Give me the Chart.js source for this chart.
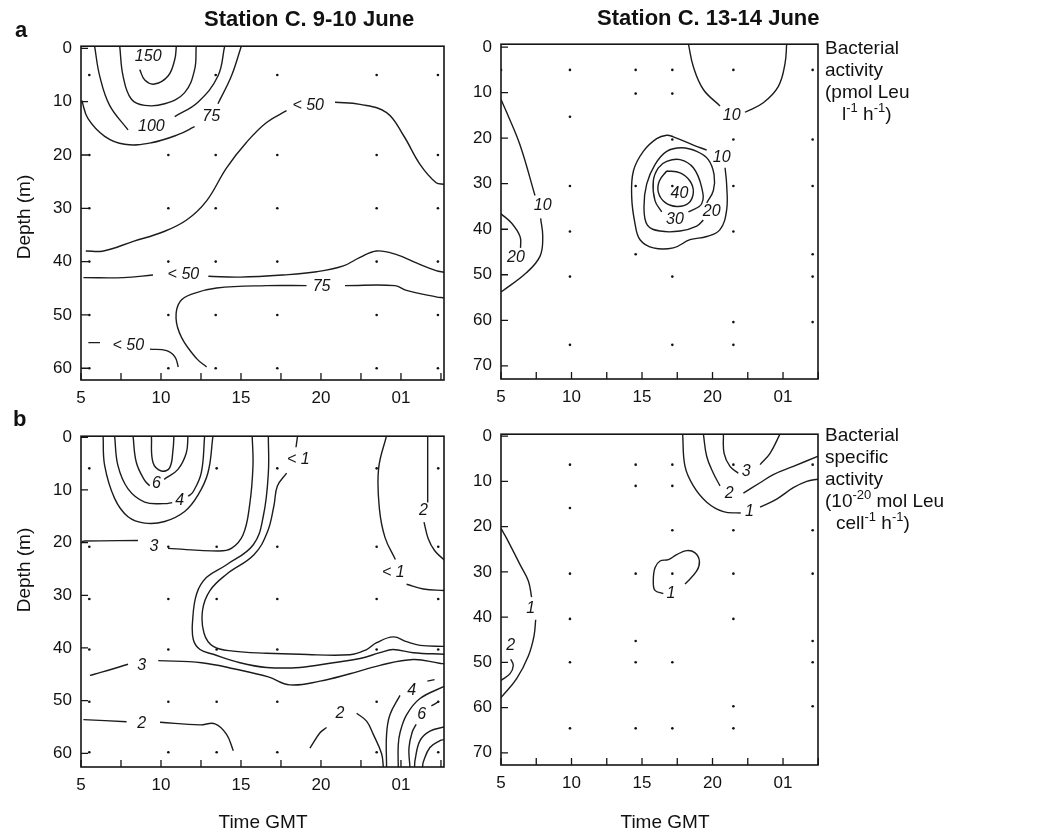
<!DOCTYPE html>
<html>
<head>
<meta charset="utf-8">
<script src="https://cdn.jsdelivr.net/npm/chart.js@4.4.1/dist/chart.umd.min.js"></script>
<style>
body { margin:0; background:#fff; width:1046px; height:834px; position:relative; overflow:hidden;
       font-family:"Liberation Sans", Arial, Helvetica, sans-serif; color:#111; }
canvas { position:absolute; }
.txt { position:absolute; white-space:nowrap; line-height:1; }
.panel { font-weight:bold; font-size:22px; }
.title { font-weight:bold; font-size:22px; }
.axis { font-size:19px; }
.side { position:absolute; font-size:19px; line-height:22px; white-space:nowrap; }
.side sup { font-size:13px; line-height:0; position:relative; top:-1px; }
</style>
</head>
<body>
<canvas id="chartA1"></canvas>
<canvas id="chartA2"></canvas>
<canvas id="chartB1"></canvas>
<canvas id="chartB2"></canvas>

<div class="txt panel" style="left:15px;top:19px">a</div>
<div class="txt panel" style="left:13px;top:408px">b</div>
<div class="txt title" style="left:204px;top:8px">Station C. 9-10 June</div>
<div class="txt title" style="left:597px;top:7px">Station C. 13-14 June</div>
<div class="txt axis" style="left:23px;top:217px;transform:translate(-50%,-50%) rotate(-90deg)">Depth (m)</div>
<div class="txt axis" style="left:23px;top:570px;transform:translate(-50%,-50%) rotate(-90deg)">Depth (m)</div>
<div class="txt axis" style="left:263px;top:812px;transform:translateX(-50%)">Time GMT</div>
<div class="txt axis" style="left:665px;top:812px;transform:translateX(-50%)">Time GMT</div>
<div class="side" style="left:825px;top:37px">Bacterial<br>activity<br>(pmol Leu<br><span style="padding-left:17px">l<sup>-1</sup> h<sup>-1</sup>)</span></div>
<div class="side" style="left:825px;top:424px">Bacterial<br>specific<br>activity<br>(10<sup>-20</sup> mol Leu<br><span style="padding-left:11px">cell<sup>-1</sup> h<sup>-1</sup>)</span></div>

<script>
// ---- axes ----
const timeTicks = [5, 10, 15, 20, 25];
const timeTickLabels = ['5', '10', '15', '20', '01'];
const timeMinorTicks = [7.5, 12.5, 17.5, 22.5, 27.5];
const depthTicksShallow = [0, 10, 20, 30, 40, 50, 60];
const depthTicksDeep = [0, 10, 20, 30, 40, 50, 60, 70];

// ---- sampling points (time h, depth m) ----
const samplesA1 = [
  [5.52,5],[13.42,5],[17.27,5],[23.48,5],[27.31,5],
  [5.52,20],[10.46,20],[13.42,20],[17.27,20],[23.48,20],[27.31,20],
  [5.52,30],[10.46,30],[13.42,30],[17.27,30],[23.48,30],[27.31,30],
  [5.52,40],[10.46,40],[13.42,40],[17.27,40],[23.48,40],[27.31,40],
  [5.52,50],[10.46,50],[13.42,50],[17.27,50],[23.48,50],[27.31,50],
  [5.52,60],[10.46,60],[13.42,60],[17.27,60],[23.48,60],[27.31,60]
];
const samplesA2 = [
  [5.0,5],[9.89,5],[14.55,5],[17.15,5],[21.48,5],[27.1,5],
  [14.55,10.2],[17.15,10.2],[9.89,15.3],
  [17.15,20.3],[21.48,20.3],[27.1,20.3],
  [9.89,30.5],[14.55,30.5],[17.15,30.5],[21.48,30.5],[27.1,30.5],
  [9.89,40.5],[21.48,40.5],[14.55,45.5],[27.1,45.5],
  [9.89,50.4],[17.15,50.4],[27.1,50.4],
  [21.48,60.4],[27.1,60.4],[9.89,65.4],[17.15,65.4],[21.48,65.4]
];
const samplesB1 = [
  [5.52,5.9],[13.48,5.9],[17.27,5.9],[23.48,5.9],[27.33,5.9],
  [5.52,20.8],[10.46,20.8],[13.48,20.8],[17.27,20.8],[23.48,20.8],[27.33,20.8],
  [5.52,30.7],[10.46,30.7],[13.48,30.7],[17.27,30.7],[23.48,30.7],[27.33,30.7],
  [5.52,40.3],[10.46,40.3],[13.48,40.3],[17.27,40.3],[23.48,40.3],[27.33,40.3],
  [5.52,50.2],[10.46,50.2],[13.48,50.2],[17.27,50.2],[23.48,50.2],[27.33,50.2],
  [5.52,59.8],[10.46,59.8],[13.48,59.8],[17.27,59.8],[23.48,59.8],[27.33,59.8]
];
const samplesB2 = [
  [9.89,6.3],[14.55,6.3],[17.15,6.3],[21.48,6.3],[27.1,6.3],
  [14.55,11],[17.15,11],[9.89,15.9],
  [17.15,20.8],[21.48,20.8],[27.1,20.8],
  [9.89,30.4],[14.55,30.4],[17.15,30.4],[21.48,30.4],[27.1,30.4],
  [9.89,40.4],[21.48,40.4],[14.55,45.3],[27.1,45.3],
  [9.89,50],[14.55,50],[17.15,50],[27.1,50],
  [21.48,59.7],[27.1,59.7],[9.89,64.6],[14.55,64.6],[17.15,64.6],[21.48,64.6]
];

// ---- contour lines, panel a left: bacterial activity 9-10 June ----
const contoursA1 = [
  [[8.67,4.0],[9.0,6.0],[9.6,6.7],[10.44,5.2],[10.86,2.1],[10.96,-0.4]],
  [[7.42,-0.4],[7.63,5.2],[8.14,9.5],[8.98,10.7],[10.23,10.4],[11.48,8.3],[12.1,4.0],[12.2,-0.4]],
  [[5.85,-0.4],[6.17,5.2],[6.79,10.7],[7.94,15.3]],
  [[10.86,12.8],[12.31,10.1],[13.56,5.2],[13.98,-0.4]],
  [[5.05,9.8],[5.44,13.2],[6.48,16.5],[7.73,18.0],[9.4,17.7],[11.06,16.2],[12.1,14.7]],
  [[13.56,10.4],[14.4,5.2],[15.02,-0.4]],
  [[5.3,38.0],[6.4,38.0],[8.27,36.2],[10.15,34.4],[11.6,32.2],[12.85,28.6],[14.1,22.4],[15.35,17.6],[16.6,13.9],[17.85,11.7]],
  [[20.88,10.1],[22.44,10.5],[24.1,12.05],[25.15,16.3],[26.2,21.8],[27.2,25.2],[27.7,25.5]],
  [[5.15,43.0],[7.65,43.0],[9.5,42.5]],
  [[12.96,42.75],[14.94,42.9],[17.65,42.5],[19.73,41.9],[21.4,40.8],[22.44,39.2],[23.48,38.0],[24.73,38.7],[26.0,40.3],[27.2,41.7],[27.7,42.0]],
  [[12.85,59.75],[12.23,58.2],[11.29,54.25],[10.94,50.6],[11.19,47.5],[12.02,46.0],[13.48,44.95],[16.6,44.5],[19.1,44.5]],
  [[21.5,44.5],[24.63,44.5],[25.35,45.4],[27.2,46.6],[27.7,46.8]],
  [[5.46,55.2],[6.19,55.2]],
  [[9.31,56.4],[10.35,56.7],[10.88,57.9],[11.08,59.75]]
];
const labelsA1 = [
  [9.2,1.5,'150'],[9.4,14.7,'100'],[13.14,12.8,'75'],[19.2,10.7,'< 50'],
  [11.4,42.5,'< 50'],[20.04,44.6,'75'],[7.96,55.8,'< 50']
];

// ---- panel a right: bacterial activity 13-14 June ----
const contoursA2 = [
  [[18.29,-0.7],[18.64,4.3],[19.35,9.3],[20.53,12.9]],
  [[22.3,14.3],[23.6,12.2],[24.67,8.6],[25.14,3.6],[25.26,-0.7]],
  [[5.0,11.5],[5.4,14.3],[6.35,21.5],[7.41,32.6]],
  [[7.81,37.6],[7.96,41.6],[7.77,45.9],[6.82,49.5],[5.0,53.8]],
  [[5.0,36.6],[5.76,38.7],[6.35,41.6],[6.39,44.1]],
  [[20.89,26.5],[21.0,30.1],[21.0,35.8],[20.53,40.1],[19.59,41.6],[18.4,42.3],[17.22,44.1],[15.8,44.1],[14.86,42.3],[14.5,38.7],[14.27,33.0],[14.39,27.2],[15.09,22.9],[16.04,20.1],[16.75,19.35],[17.22,19.7],[18.64,21.5],[19.59,22.6]],
  [[19.59,34.2],[20.06,31.5],[20.11,28.0],[19.7,24.7],[18.88,22.9],[17.81,22.1],[16.75,22.9],[15.92,25.8],[15.33,30.1],[15.14,35.1],[15.38,39.1],[16.28,40.4],[17.7,40.4],[18.88,39.3],[19.35,38.0]],
  [[18.29,36.2],[19.23,34.4],[19.23,30.8],[18.64,26.5],[17.7,24.7],[16.75,25.1],[16.16,26.5],[15.8,29.4],[15.92,33.7],[16.4,36.2]],
  [[16.75,27.2],[17.7,27.6],[18.4,29.4],[18.64,31.9],[18.29,34.3],[17.46,35.0],[16.63,34.1],[16.16,31.9],[16.23,29.4],[16.75,27.2]]
];
const labelsA2 = [
  [21.36,15.05,'10'],[20.65,24.2,'10'],[17.65,32.1,'40'],[19.94,36.2,'20'],
  [17.34,37.85,'30'],[7.96,34.8,'10'],[6.06,46.2,'20']
];

// ---- panel b left: specific activity 9-10 June ----
const contoursB1 = [
  [[9.4,-0.3],[9.5,4.8],[10.02,6.4],[10.54,5.8],[10.75,2.4],[10.81,-0.3]],
  [[8.25,-0.3],[8.46,4.8],[8.98,8.2],[9.29,9.2]],
  [[10.2,8.0],[11.06,6.1],[11.58,3.0],[11.69,-0.3]],
  [[7.1,-0.3],[7.31,5.4],[7.94,9.8],[8.98,12.3],[10.23,12.6],[10.7,12.4]],
  [[11.7,11.2],[12.0,10.4],[12.52,6.7],[12.73,-0.3]],
  [[6.38,-0.3],[6.48,5.4],[7.1,11.6],[7.94,15.1],[8.98,16.3],[10.23,16.0],[11.48,14.1],[12.31,11.0],[12.94,6.7],[13.25,-0.3]],
  [[5.05,19.8],[5.23,19.7],[8.56,19.6]],
  [[10.44,21.1],[13.56,21.6],[14.4,21.1],[15.13,18.5],[15.54,12.9],[15.75,5.4],[15.7,-0.3]],
  [[16.71,-0.3],[16.71,6.8],[16.4,14.9],[15.77,20.4],[14.1,24.2],[12.85,26.6],[12.23,29.7],[11.98,34.7],[12.02,38.4],[12.44,40.3],[13.27,41.2],[14.94,42.8],[16.6,43.7],[18.69,43.7],[20.77,42.8],[22.44,42.0],[23.69,40.9],[24.5,40.3],[25.77,40.9],[27.7,41.2]],
  [[18.54,-0.3],[18.44,1.9]],
  [[17.85,6.8],[17.27,9.3],[17.06,13.0],[16.65,18.0],[15.81,22.3],[14.1,26.0],[13.06,29.1],[12.6,32.8],[12.69,37.2],[13.27,39.7],[14.52,40.6],[16.6,41.0],[18.69,41.2],[21.81,41.3],[22.85,40.3],[23.48,39.0],[24.52,37.9],[25.35,38.8],[26.19,39.5],[27.7,39.7]],
  [[5.56,45.2],[6.29,44.6],[7.94,43.1]],
  [[9.83,42.4],[12.54,42.8],[14.62,44.0],[16.71,45.5],[18.06,47.0],[19.94,46.3],[21.81,44.9],[23.69,43.3],[25.77,42.2],[27.4,42.9],[27.7,43.0]],
  [[5.15,53.6],[7.85,54.0]],
  [[9.94,54.1],[12.44,54.6],[13.38,54.4],[14.1,56.4],[14.52,59.5]],
  [[19.31,59.0],[19.94,56.1],[20.35,55.1]],
  [[22.23,52.4],[22.85,53.9],[23.27,56.4],[23.79,60.1],[23.9,62.6]],
  [[24.1,62.6],[24.1,56.4],[24.31,52.7],[24.94,49.0]],
  [[26.65,46.3],[27.1,46.0]],
  [[24.83,62.6],[24.83,58.5],[24.94,56.1],[25.35,52.7],[26.19,49.6],[27.7,47.3]],
  [[25.56,62.6],[25.5,59.0],[25.7,56.0],[25.95,54.5]],
  [[26.9,51.0],[27.3,50.3]],
  [[25.85,62.6],[25.88,61.3],[26.19,57.6],[26.81,55.8],[27.7,55.0]],
  [[26.35,62.6],[26.4,61.6],[26.81,58.9],[27.44,57.6],[27.7,57.4]],
  [[24.1,-0.3],[23.6,6.0],[23.65,13.5],[24.0,19.0],[24.65,23.2]],
  [[25.35,27.9],[26.4,28.8],[27.7,29.1]],
  [[26.67,-0.3],[26.67,12.4]],
  [[26.44,16.1],[26.7,19.2],[27.1,21.5],[27.7,23.3]]
];
const labelsB1 = [
  [9.71,8.7,'6'],[11.17,12.1,'4'],[9.56,20.8,'3'],[18.58,4.3,'< 1'],[26.4,13.9,'2'],
  [24.52,25.7,'< 1'],[8.79,43.4,'3'],[8.79,54.4,'2'],[21.19,52.4,'2'],[25.67,48.0,'4'],[26.29,52.7,'6']
];

// ---- panel b right: specific activity 13-14 June ----
const contoursB2 = [
  [[20.77,-0.5],[20.82,3.8],[21.24,6.7],[21.83,8.2]],
  [[23.37,6.3],[24.08,3.8],[24.79,-0.5]],
  [[19.35,-0.5],[19.59,4.5],[20.06,8.2],[20.53,11.0]],
  [[22.19,12.6],[23.37,10.3],[24.31,8.5],[25.73,6.7],[27.5,4.4]],
  [[17.88,-0.5],[18.05,6.7],[18.64,11.0],[19.59,14.6],[20.77,16.7],[22.0,17.0]],
  [[23.37,15.7],[24.55,13.9],[25.73,11.4],[26.68,10.0],[27.5,9.5]],
  [[16.51,34.8],[15.92,34.1],[15.8,32.0],[15.92,29.1],[16.28,27.6],[16.87,27.3],[17.46,26.2],[18.17,25.3],[18.76,25.8],[19.07,27.6],[18.88,29.8],[18.05,32.7]],
  [[5.0,20.4],[5.4,22.6],[6.35,28.4],[6.94,32.0],[7.17,35.6]],
  [[7.46,40.6],[7.34,44.2],[6.94,48.6],[6.11,53.6],[5.0,57.8]],
  [[5.69,49.3],[5.87,50.7],[5.64,52.5],[5.0,54.0]]
];
const labelsB2 = [
  [22.38,7.8,'3'],[21.19,12.6,'2'],[22.61,16.7,'1'],[17.06,34.8,'1'],[7.1,38.1,'1'],[5.69,46.4,'2']
];

const FONT = '"Liberation Sans", Arial, Helvetica, sans-serif';
Chart.defaults.font.family = FONT;
Chart.defaults.color = '#111';

// frame, inward tick marks and contour labels
const panelDecor = {
  id: 'panelDecor',
  afterDatasetsDraw(chart, args, opts) {
    const { ctx, chartArea: a, scales: { x, y } } = chart;
    ctx.save();
    ctx.strokeStyle = '#151515';
    ctx.lineWidth = 1.6;
    ctx.strokeRect(a.left, a.top, a.right - a.left, a.bottom - a.top);
    ctx.lineWidth = 1.3;
    ctx.beginPath();
    opts.depthTicks.forEach(v => {
      const py = y.getPixelForValue(v);
      ctx.moveTo(a.left, py); ctx.lineTo(a.left + 7, py);
    });
    timeTicks.concat(timeMinorTicks).forEach(v => {
      const px = x.getPixelForValue(v);
      ctx.moveTo(px, a.bottom); ctx.lineTo(px, a.bottom - 7);
    });
    ctx.stroke();
    ctx.font = 'italic 16px ' + FONT;
    ctx.fillStyle = '#151515';
    ctx.textAlign = 'center';
    ctx.textBaseline = 'middle';
    opts.labels.forEach(([t, d, s]) => ctx.fillText(s, x.getPixelForValue(t), y.getPixelForValue(d)));
    ctx.restore();
  }
};

function makePanel(id, box, xMax, yMin, yMax, depthTicks, samples, contours, labels) {
  const cv = document.getElementById(id);
  const w = box.r - box.l + 70, h = box.b - box.t + 52;
  cv.width = w; cv.height = h;
  cv.style.left = (box.l - 60) + 'px';
  cv.style.top = (box.t - 12) + 'px';
  cv.style.width = w + 'px'; cv.style.height = h + 'px';

  const datasets = [{
    data: samples.map(([x, y]) => ({ x, y })),
    pointRadius: 1.3, pointHoverRadius: 1.3,
    pointBackgroundColor: '#111', pointBorderWidth: 0,
    showLine: false
  }];
  contours.forEach(c => datasets.push({
    data: c.map(([x, y]) => ({ x, y })),
    showLine: true, pointRadius: 0, pointHoverRadius: 0,
    borderColor: '#1c1c1c', borderWidth: 1.4,
    tension: 0.4, fill: false
  }));

  return new Chart(cv, {
    type: 'scatter',
    data: { datasets },
    options: {
      responsive: false,
      animation: false,
      devicePixelRatio: 1,
      layout: { padding: { left: 10, top: 12, right: 10, bottom: 10 } },
      plugins: {
        legend: { display: false },
        tooltip: { enabled: false },
        panelDecor: { depthTicks, labels }
      },
      scales: {
        x: {
          type: 'linear', min: 5, max: xMax,
          grid: { display: false, drawTicks: false },
          border: { display: false },
          afterBuildTicks: s => { s.ticks = timeTicks.map(v => ({ value: v })); },
          afterFit: s => { s.height = 30; },
          ticks: {
            padding: 8, maxRotation: 0, autoSkip: false,
            font: { size: 17 },
            callback: (v, i) => timeTickLabels[i]
          }
        },
        y: {
          type: 'linear', reverse: true, min: yMin, max: yMax,
          grid: { display: false, drawTicks: false },
          border: { display: false },
          afterBuildTicks: s => { s.ticks = depthTicks.map(v => ({ value: v })); },
          afterFit: s => { s.width = 50; },
          ticks: { padding: 9, autoSkip: false, font: { size: 17 } }
        }
      }
    },
    plugins: [panelDecor]
  });
}

makePanel('chartA1', { l: 81, t: 39, r: 444, b: 380 }, 27.69, -0.4, 62.2, depthTicksShallow, samplesA1, contoursA1, labelsA1);
makePanel('chartA2', { l: 501, t: 37, r: 818, b: 379 }, 27.48, -0.65, 72.9, depthTicksDeep, samplesA2, contoursA2, labelsA2);
makePanel('chartB1', { l: 81, t: 429, r: 444, b: 767 }, 27.69, -0.2, 62.6, depthTicksShallow, samplesB1, contoursB1, labelsB1);
makePanel('chartB2', { l: 501, t: 427, r: 818, b: 765 }, 27.48, -0.43, 72.7, depthTicksDeep, samplesB2, contoursB2, labelsB2);
</script>
</body>
</html>
